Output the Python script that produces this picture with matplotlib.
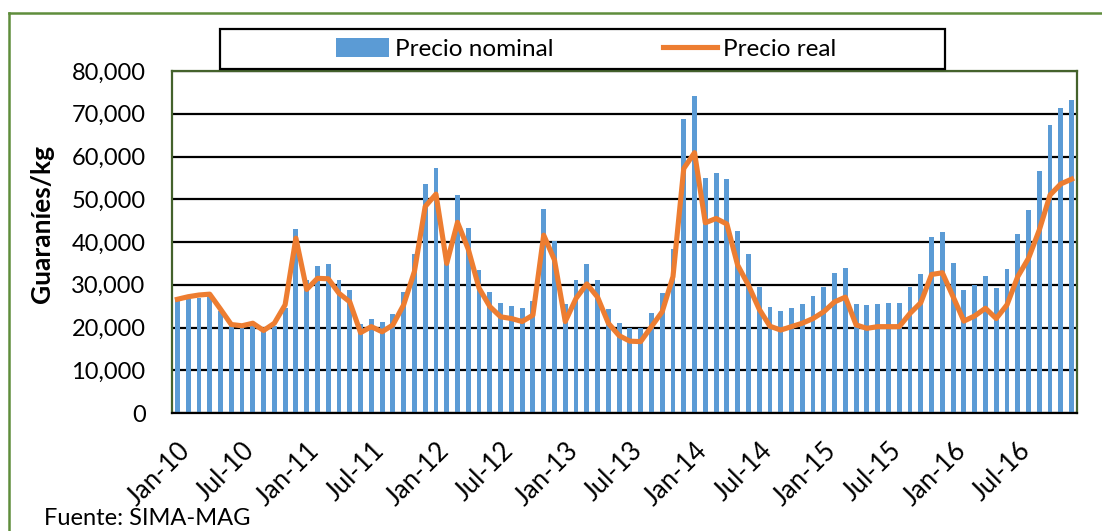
import matplotlib.pyplot as plt
from matplotlib.lines import Line2D
from matplotlib.patches import Rectangle
from matplotlib.ticker import FuncFormatter

plt.rcParams["font.family"] = ["Lato", "DejaVu Sans"]

# monthly prices, Jan-2010 .. Dec-2016 (Guaraníes/kg)
nominal = [
    26800, 26600, 26900, 27600, 23900, 20700, 20400, 20600, 19100, 20400, 24600, 43000,
    31100, 34500, 34800, 31100, 28800, 20800, 22000, 21200, 23200, 28200, 37200, 53500,
    57400, 36000, 51000, 43200, 33500, 28200, 25700, 25100, 24500, 26300, 47700, 40300,
    25400, 31100, 34900, 31000, 24300, 21000, 19800, 19800, 23300, 28000, 38300, 68700,
    74200, 54900, 56100, 54700, 42600, 37200, 29500, 24700, 23900, 24500, 25400, 27400,
    29500, 32700, 34000, 25500, 25300, 25400, 25700, 25700, 29500, 32500, 41200, 42300,
    35200, 28800, 29900, 32100, 29200, 33800, 41900, 47600, 56500, 67400, 71300, 73200,
]
real = [
    26600, 27200, 27600, 27800, 24300, 20700, 20400, 21000, 19300, 21000, 25300, 40900,
    28900, 31500, 31400, 28000, 26000, 18800, 20200, 19000, 20600, 25300, 33100, 48300,
    51200, 35000, 44600, 38300, 29200, 24900, 22500, 22100, 21400, 22900, 41600, 35800,
    21400, 26800, 30200, 27100, 21000, 18100, 16800, 16700, 20200, 23700, 31900, 57200,
    60900, 44500, 45500, 44200, 34600, 29900, 24300, 20300, 19400, 20200, 21000, 22100,
    23700, 26000, 27100, 20600, 19800, 20200, 20200, 20200, 23300, 25800, 32400, 32800,
    27200, 21500, 22700, 24500, 22100, 25300, 31900, 36200, 42800, 51000, 53600, 54700,
]
months = ["Jan", "Jul"]
years = ["10", "11", "12", "13", "14", "15", "16"]
tick_labels = [f"{m}-{y}" for y in years for m in months]

BLUE = "#5B9BD5"
ORANGE = "#ED7D31"
DARK_GREEN = "#44622C"
LIGHT_GREEN = "#5F8D3C"

W, H = 1102, 531
fig = plt.figure(figsize=(W / 100, H / 100), dpi=100)
ax = fig.add_axes([172 / W, 1 - 413 / H, (1077 - 172) / W, (413 - 71) / H])

x = list(range(len(nominal)))
bars = ax.bar(x, nominal, width=0.45, color=BLUE, zorder=2, label="Precio nominal")
line, = ax.plot(x, real, color=ORANGE, lw=3.7, solid_joinstyle="round", zorder=3,
                label="Precio real")

ax.set_xlim(-0.5, len(nominal) - 0.5)
ax.set_ylim(0, 80000)
ax.set_yticks(range(0, 80001, 10000))
ax.yaxis.set_major_formatter(FuncFormatter(lambda v, p: f"{int(v):,}"))
ax.yaxis.grid(True, color="black", lw=1.6)
ax.set_axisbelow(True)

ax.set_xticks(range(0, len(nominal), 6))
ax.set_xticklabels(tick_labels)
ax.tick_params(axis="y", length=0, pad=19, labelsize=17)
ax.tick_params(axis="x", length=0, pad=18, labelsize=18.5)
plt.setp(ax.get_xticklabels(), rotation=45, ha="right", va="top",
         rotation_mode="anchor")

for side in ("left", "top", "right"):
    ax.spines[side].set_color(DARK_GREEN)
    ax.spines[side].set_linewidth(1.6)
ax.spines["bottom"].set_color("black")
ax.spines["bottom"].set_linewidth(1.6)

fig.text(42 / W, 1 - 224 / H, "Guaraníes/kg", rotation=90, ha="center",
         va="center", fontsize=19, fontweight="bold")
fig.text(44 / W, 6 / H, "Fuente: SIMA-MAG", ha="left", va="baseline",
         fontsize=17)

# outer chart border (left and top visible)
fig.add_artist(Line2D([9 / W, 9 / W], [0, 1 - 13 / H], color=LIGHT_GREEN, lw=1.8))
fig.add_artist(Line2D([9 / W, 1], [1 - 13 / H, 1 - 13 / H], color=LIGHT_GREEN, lw=1.8))

# legend box
fig.add_artist(Rectangle((220 / W, 1 - 69 / H), (945 - 220) / W, 40 / H,
                         transform=fig.transFigure, facecolor="white",
                         edgecolor="black", lw=1.6, zorder=4))
leg = fig.legend([bars, line], ["Precio nominal", "Precio real"], loc="center",
                 bbox_to_anchor=(586 / W, 1 - 49 / H), ncol=2, frameon=False,
                 fontsize=17.5, handlelength=2.2, handleheight=0.8,
                 handletextpad=0.25, columnspacing=4.5, borderpad=0)
leg.set_zorder(5)

fig.savefig("out.png", dpi=100)
